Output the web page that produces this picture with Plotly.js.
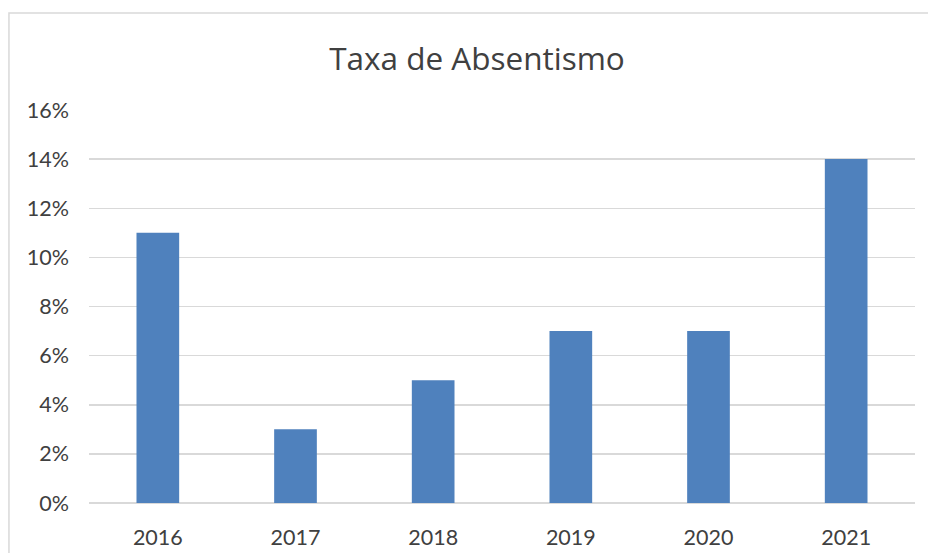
<!DOCTYPE html>
<html>
<head>
<meta charset="utf-8">
<script src="https://cdn.plot.ly/plotly-3.0.1.min.js"></script>
<style>
  html, body { margin: 0; padding: 0; background: #fff; }
  #chart { width: 928px; height: 553px; }
</style>
</head>
<body>
<div id="chart"></div>
<script>
// data
var anos = ['2016', '2017', '2018', '2019', '2020', '2021'];
var taxas = [0.11, 0.03, 0.05, 0.07, 0.07, 0.14];

var textColor = '#404040';
var gridColor = '#d9d9d9';

var trace = {
    x: anos,
    y: taxas,
    type: 'bar',
    marker: {
        color: '#4f81bd'
    },
    hoverinfo: 'x+y'
};

var layout = {
    width: 928,
    height: 553,
    margin: { l: 89, r: 13, t: 110, b: 50 },
    paper_bgcolor: '#fff',
    plot_bgcolor: '#fff',
    font: { family: 'Lato, "Open Sans", sans-serif', color: textColor, size: 21 },
    title: {
        text: 'Taxa de Absentismo',
        font: { family: '"Open Sans", Lato, sans-serif', size: 31.5, color: textColor },
        xref: 'container',
        yref: 'container',
        x: 0.514,
        xanchor: 'center',
        y: 0.893,
        yanchor: 'middle'
    },
    bargap: 0.69,
    showlegend: false,
    xaxis: {
        type: 'category',
        showgrid: false,
        showline: false,
        zeroline: false,
        ticks: '',
        ticklabelstandoff: 19,
        tickfont: { size: 21.5, color: textColor }
    },
    yaxis: {
        range: [0, 0.16],
        dtick: 0.02,
        tickformat: '.0%',
        showgrid: true,
        gridcolor: gridColor,
        gridwidth: 1.5,
        zeroline: true,
        zerolinecolor: gridColor,
        zerolinewidth: 1.5,
        showline: false,
        ticks: '',
        ticklabelstandoff: 19,
        tickfont: { size: 21.5, color: textColor }
    },
    shapes: [{
        // light outer frame of the chart (cropped on right and bottom)
        type: 'rect',
        xref: 'paper',
        yref: 'paper',
        x0: -0.0969,
        x1: 1.04,
        y0: -0.16,
        y1: 1.2468,
        line: { color: gridColor, width: 1.5 },
        fillcolor: 'rgba(0,0,0,0)',
        layer: 'below'
    }]
};

Plotly.newPlot('chart', [trace], layout, { displayModeBar: false, staticPlot: true });
</script>
</body>
</html>
